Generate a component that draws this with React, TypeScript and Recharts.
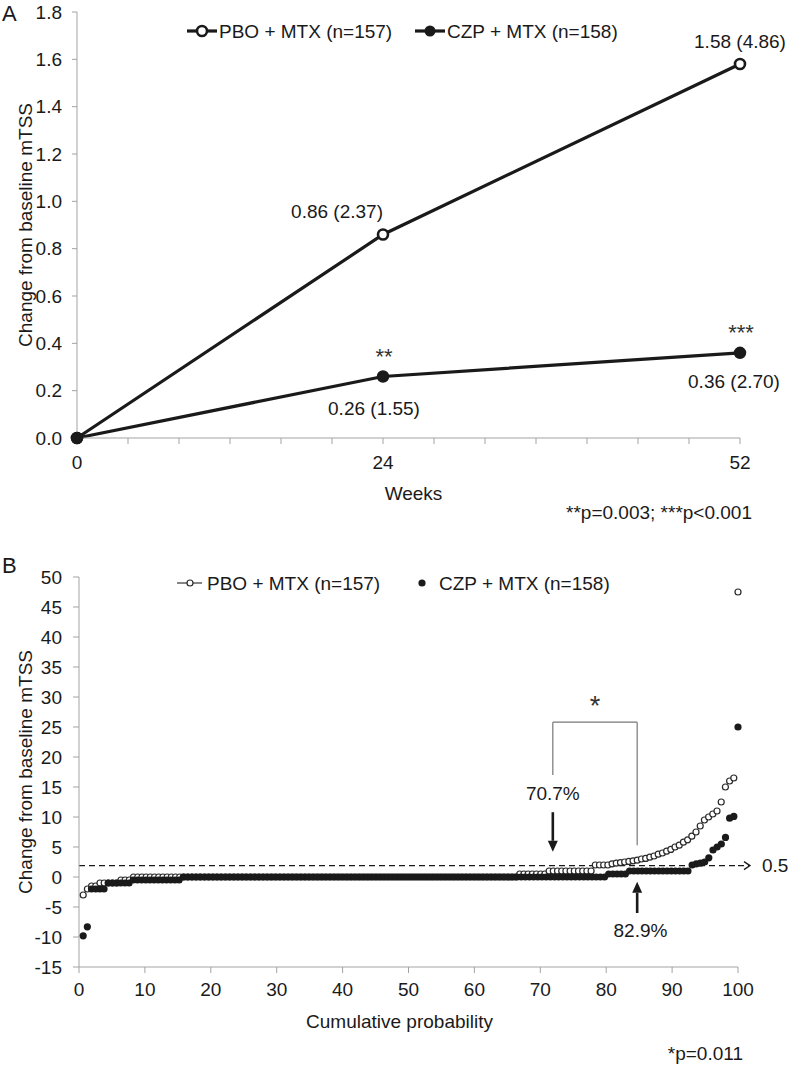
import React from 'react';
import {
  LineChart,
  Line,
  XAxis,
  YAxis,
  ScatterChart,
  Scatter,
  ReferenceLine,
  ReferenceDot,
} from 'recharts';

const FONT = '"Liberation Sans", Arial, sans-serif';
const INK = '#1a1a1a';
const AXIS = '#a3a3a3';
const FS = 19;

// ---- panel A: mean change from baseline
const weeks = [0, 24, 52];
const pboMean = [0, 0.86, 1.58];
const pboSd = [null, 2.37, 4.86];
const czpMean = [0, 0.26, 0.36];
const czpSd = [null, 1.55, 2.7];
const czpStars = ['', '**', '***'];
const weekTicks = [0, 4, 8, 12, 16, 20, 24, 28, 32, 36, 40, 44, 48, 52];
const weekLabels = [0, 24, 52];
const meanTicks = [0, 0.2, 0.4, 0.6, 0.8, 1.0, 1.2, 1.4, 1.6, 1.8];

// ---- panel B: cumulative probability plot (sorted individual changes)
const pboChange = [
  -3, -2, -1.5, -1.5, -1, -1, -1, -1, -1, -0.5, -0.5, -0.5,
  0, 0, 0, 0, 0, 0, 0, 0, 0, 0, 0, 0, 0, 0, 0, 0, 0, 0, 0, 0,
  0, 0, 0, 0, 0, 0, 0, 0, 0, 0, 0, 0, 0, 0, 0, 0, 0, 0, 0, 0,
  0, 0, 0, 0, 0, 0, 0, 0, 0, 0, 0, 0, 0, 0, 0, 0, 0, 0, 0, 0,
  0, 0, 0, 0, 0, 0, 0, 0, 0, 0, 0, 0, 0, 0, 0, 0, 0, 0, 0, 0,
  0, 0, 0, 0, 0, 0, 0, 0, 0, 0, 0, 0,
  0.5, 0.5, 0.5, 0.5, 0.5, 0.5, 0.5,
  1, 1, 1, 1, 1, 1, 1, 1, 1, 1, 1,
  2, 2, 2, 2,
  2.2, 2.3, 2.4, 2.5, 2.6, 2.7, 2.8, 3, 3.1, 3.3, 3.5, 3.8, 4, 4.3, 4.6, 5,
  5.3, 5.8, 6.2, 6.8, 7.5, 8.5, 9.5, 10, 10.5, 11, 12.5, 15, 16, 16.5, 47.5,
];
const czpChange = [
  -9.8, -8.3, -2, -2, -2, -2, -1, -1, -1, -1, -1, -1,
  -0.5, -0.5, -0.5, -0.5, -0.5, -0.5, -0.5, -0.5, -0.5, -0.5, -0.5, -0.5,
  0, 0, 0, 0, 0, 0, 0, 0, 0, 0, 0, 0, 0, 0, 0, 0, 0, 0, 0, 0,
  0, 0, 0, 0, 0, 0, 0, 0, 0, 0, 0, 0, 0, 0, 0, 0, 0, 0, 0, 0,
  0, 0, 0, 0, 0, 0, 0, 0, 0, 0, 0, 0, 0, 0, 0, 0, 0, 0, 0, 0,
  0, 0, 0, 0, 0, 0, 0, 0, 0, 0, 0, 0, 0, 0, 0, 0, 0, 0, 0, 0,
  0, 0, 0, 0, 0, 0, 0, 0, 0, 0, 0, 0, 0, 0, 0, 0, 0, 0, 0, 0,
  0, 0,
  0.5, 0.5, 0.5, 0.5, 0.5,
  1, 1, 1, 1, 1, 1, 1, 1, 1, 1, 1, 1, 1, 1, 1,
  2, 2.2, 2.3, 2.5, 3.2, 4.5, 5, 5.5, 6.6, 9.8, 10.1, 25,
];
const probTicks = [0, 10, 20, 30, 40, 50, 60, 70, 80, 90, 100];
const changeTicks = [-15, -10, -5, 0, 5, 10, 15, 20, 25, 30, 35, 40, 45, 50];
const threshold = 1.9; // drawn position of the "0.5" cut-off line
const pboPctLabel = '70.7%';
const czpPctLabel = '82.9%';

const meanRows = weeks.map((w, i) => ({
  week: w,
  pbo: pboMean[i],
  czp: czpMean[i],
  pboSd: pboSd[i],
  czpSd: czpSd[i],
  star: czpStars[i],
}));

const pboPoints = pboChange.map((v, i) => ({ x: ((i + 1) / pboChange.length) * 100, y: v }));
const czpPoints = czpChange.map((v, i) => ({ x: ((i + 1) / czpChange.length) * 100, y: v }));

const tickStyle = { fontSize: FS, fill: INK, fontFamily: FONT };
const fmt = (m: number, sd: number) => `${m.toFixed(2)} (${sd.toFixed(2)})`;

function pboDot(p: any) {
  const { cx, cy, index, payload } = p;
  return (
    <g key={`pbo-${index}`}>
      <circle cx={cx} cy={cy} r={5} fill="#fff" stroke={INK} strokeWidth={2.6} />
      {index === 1 && (
        <text x={cx} y={cy - 23} textAnchor="end" dominantBaseline="central" {...tickStyle}>
          {fmt(payload.pbo, payload.pboSd)}
        </text>
      )}
      {index === 2 && (
        <text x={cx} y={cy - 23} textAnchor="middle" dominantBaseline="central" {...tickStyle}>
          {fmt(payload.pbo, payload.pboSd)}
        </text>
      )}
    </g>
  );
}

function czpDot(p: any) {
  const { cx, cy, index, payload } = p;
  return (
    <g key={`czp-${index}`}>
      <circle cx={cx} cy={cy} r={5.5} fill={INK} stroke={INK} strokeWidth={1.5} />
      {index > 0 && (
        <>
          <text x={cx + 1} y={cy - 20} textAnchor="middle" dominantBaseline="central"
            fontSize={22} fill="#333" fontFamily={FONT}>
            {payload.star}
          </text>
          <text x={index === 1 ? cx - 9 : cx - 6} y={index === 1 ? cy + 32 : cy + 29}
            textAnchor="middle" dominantBaseline="central" {...tickStyle}>
            {fmt(payload.czp, payload.czpSd)}
          </text>
        </>
      )}
    </g>
  );
}

function Arrow(p: any) {
  const { x1, y1, x2, y2 } = p;
  const dir = Math.sign(y2 - y1);
  const head = 11;
  return (
    <g>
      <line x1={x1} y1={y1} x2={x2} y2={y2 - dir * head} stroke={INK} strokeWidth={2.6} />
      <polygon points={`${x2 - 5},${y2 - dir * head} ${x2 + 5},${y2 - dir * head} ${x2},${y2}`} fill={INK} />
    </g>
  );
}

function ThresholdTail(p: any) {
  const vb = p.viewBox || {};
  const xe = vb.x + vb.width;
  const y = vb.y;
  return (
    <g>
      <line x1={xe} y1={y} x2={xe + 11} y2={y} stroke={INK} strokeWidth={1.3} strokeDasharray="6 4" />
      <polyline points={`${xe + 6},${y - 4} ${xe + 12},${y} ${xe + 6},${y + 4}`} fill="none" stroke={INK} strokeWidth={1.3} />
      <text x={xe + 24} y={y} dominantBaseline="central" {...tickStyle}>0.5</text>
    </g>
  );
}

const openCircle = (p: any) => (
  <circle cx={p.cx} cy={p.cy} r={3} fill="#fff" stroke="#2a2a2a" strokeWidth={1.2} />
);
const filledCircle = (p: any) => <circle cx={p.cx} cy={p.cy} r={3.6} fill={INK} />;

export default function App() {
  return (
    <div style={{ position: 'absolute', left: 0, top: 0, width: 790, height: 1066, background: '#fff', fontFamily: FONT }}>
      <div style={{ position: 'absolute', left: 0, top: 0 }}>
        <LineChart width={790} height={530} data={meanRows} margin={{ top: 12, right: 50, bottom: 28, left: 0 }}>
          <XAxis
            dataKey="week"
            type="number"
            domain={[0, 52]}
            ticks={weekTicks}
            interval={0}
            tickFormatter={(v: number) => (weekLabels.includes(v) ? String(v) : '')}
            height={64}
            stroke={AXIS}
            tickSize={6}
            tickMargin={12}
            tick={tickStyle}
            label={{ value: 'Weeks', position: 'insideBottom', offset: 2, dx: 5, style: tickStyle }}
          />
          <YAxis
            type="number"
            domain={[0, 1.8]}
            ticks={meanTicks}
            interval={0}
            tickFormatter={(v: number) => v.toFixed(1)}
            width={77}
            stroke={AXIS}
            tickSize={5}
            tickMargin={10}
            tick={tickStyle}
            label={{
              value: 'Change from baseline mTSS',
              angle: -90,
              position: 'insideLeft',
              offset: 25,
              style: { ...tickStyle, textAnchor: 'middle' },
            }}
          />
          <Line dataKey="pbo" stroke={INK} strokeWidth={3.2} dot={pboDot} activeDot={false} isAnimationActive={false} />
          <Line dataKey="czp" stroke={INK} strokeWidth={3.2} dot={czpDot} activeDot={false} isAnimationActive={false} />
        </LineChart>
      </div>

      <div style={{ position: 'absolute', left: 0, top: 530 }}>
        <ScatterChart width={790} height={536} margin={{ top: 47, right: 52, bottom: 35, left: 0 }}>
          <XAxis
            dataKey="x"
            type="number"
            domain={[0, 100]}
            ticks={probTicks}
            interval={0}
            height={64}
            stroke={AXIS}
            tickSize={6}
            tickMargin={10}
            tick={tickStyle}
            label={{ value: 'Cumulative probability', position: 'insideBottom', offset: 3, dx: -9, style: tickStyle }}
          />
          <YAxis
            dataKey="y"
            type="number"
            domain={[-15, 50]}
            ticks={changeTicks}
            interval={0}
            width={79}
            stroke={AXIS}
            tickSize={6}
            tickMargin={11}
            tick={tickStyle}
            label={{
              value: 'Change from baseline mTSS',
              angle: -90,
              position: 'insideLeft',
              offset: 25,
              style: { ...tickStyle, textAnchor: 'middle' },
            }}
          />
          <ReferenceLine y={threshold} stroke={INK} strokeWidth={1.3} strokeDasharray="6 4" label={ThresholdTail} />
          <ReferenceLine segment={[{ x: 71.9, y: 17 }, { x: 71.9, y: 25.8 }]} stroke="#777" strokeWidth={1.2} />
          <ReferenceLine segment={[{ x: 71.9, y: 25.8 }, { x: 84.7, y: 25.8 }]} stroke="#777" strokeWidth={1.2} />
          <ReferenceLine segment={[{ x: 84.7, y: 25.8 }, { x: 84.7, y: 5.3 }]} stroke="#777" strokeWidth={1.2} />
          <ReferenceLine segment={[{ x: 71.9, y: 10.8 }, { x: 71.9, y: 4.2 }]} shape={Arrow} />
          <ReferenceLine segment={[{ x: 84.7, y: -6 }, { x: 84.7, y: -0.8 }]} shape={Arrow} />
          <ReferenceDot x={78.3} y={28.6} r={0} fill="none" stroke="none"
            label={{ value: '*', position: 'center', fontSize: 27, fill: '#333', fontFamily: FONT }} />
          <ReferenceDot x={71.9} y={14} r={0} fill="none" stroke="none"
            label={{ value: pboPctLabel, position: 'center', ...tickStyle }} />
          <ReferenceDot x={85.2} y={-8.8} r={0} fill="none" stroke="none"
            label={{ value: czpPctLabel, position: 'center', ...tickStyle }} />
          <Scatter data={pboPoints} shape={openCircle} isAnimationActive={false} />
          <Scatter data={czpPoints} shape={filledCircle} isAnimationActive={false} />
        </ScatterChart>
      </div>

      <svg width={790} height={1066} style={{ position: 'absolute', left: 0, top: 0, pointerEvents: 'none' }}>
        <g fontFamily={FONT} fill={INK}>
          <text x={2} y={13} fontSize={22} dominantBaseline="central">A</text>
          <line x1={187} y1={31} x2={217} y2={31} stroke={INK} strokeWidth={3.2} />
          <circle cx={202} cy={31} r={5} fill="#fff" stroke={INK} strokeWidth={2.6} />
          <text x={219} y={31} fontSize={FS} dominantBaseline="central">PBO + MTX (n=157)</text>
          <line x1={415} y1={31} x2={445} y2={31} stroke={INK} strokeWidth={3.2} />
          <circle cx={430} cy={31} r={5.5} fill={INK} />
          <text x={447} y={31} fontSize={FS} dominantBaseline="central">CZP + MTX (n=158)</text>
          <text x={752} y={512} fontSize={FS} textAnchor="end" dominantBaseline="central">**p=0.003; ***p&lt;0.001</text>

          <text x={2} y={565} fontSize={22} dominantBaseline="central">B</text>
          <line x1={177} y1={583} x2={202} y2={583} stroke="#333" strokeWidth={1.2} />
          <circle cx={190} cy={583} r={3} fill="#fff" stroke="#2a2a2a" strokeWidth={1.2} />
          <text x={207} y={583} fontSize={FS} dominantBaseline="central">PBO + MTX (n=157)</text>
          <circle cx={422} cy={583} r={3.6} fill={INK} />
          <text x={439} y={583} fontSize={FS} dominantBaseline="central">CZP + MTX (n=158)</text>
          <text x={743} y={1053} fontSize={FS} textAnchor="end" dominantBaseline="central">*p=0.011</text>
        </g>
      </svg>
    </div>
  );
}
